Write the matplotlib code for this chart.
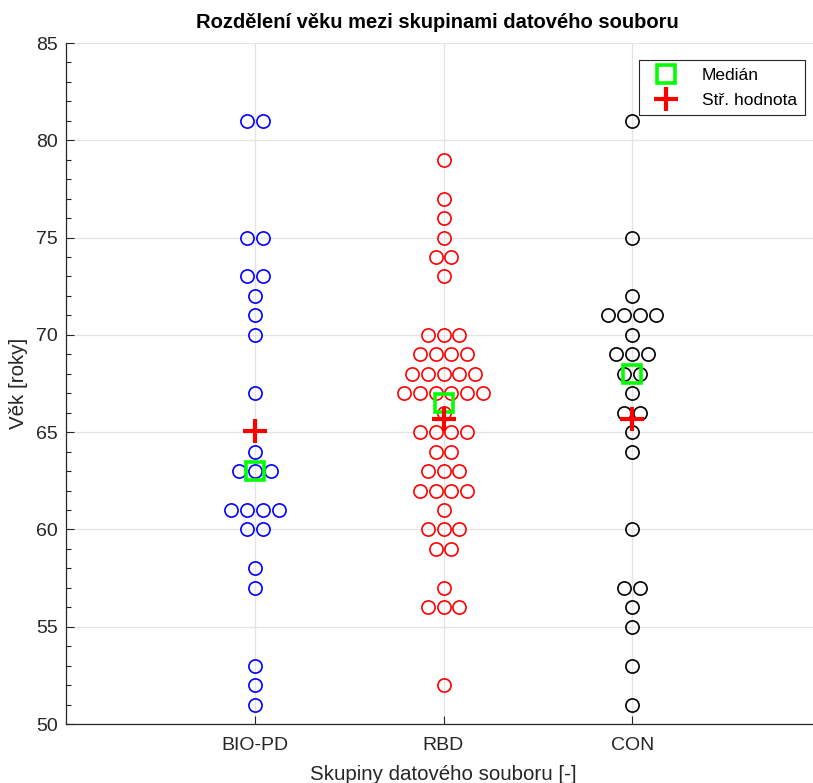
import numpy as np
import matplotlib
matplotlib.use("Agg")
import matplotlib.pyplot as plt
from matplotlib.ticker import MultipleLocator

plt.rcParams['font.family'] = ['Liberation Sans', 'DejaVu Sans']

groups = ["BIO-PD", "RBD", "CON"]
colors = ["#0000ff", "#ff0000", "#000000"]

# ages per group
bio_pd = [81, 81, 75, 75, 73, 73, 72, 71, 70, 67, 64, 63, 63, 63,
          61, 61, 61, 61, 60, 60, 58, 57, 53, 52, 51]
rbd = [79, 77, 76, 75, 74, 74, 73, 70, 70, 70, 69, 69, 69, 69,
       68, 68, 68, 68, 68, 67, 67, 67, 67, 67, 67, 66, 65, 65, 65, 65,
       64, 64, 63, 63, 63, 62, 62, 62, 62, 61, 60, 60, 60, 59, 59,
       57, 56, 56, 56, 52]
con = [81, 75, 72, 71, 71, 71, 71, 70, 69, 69, 69, 68, 68, 67, 66, 66,
       65, 64, 60, 57, 57, 56, 55, 53, 51]
data = [bio_pd, rbd, con]

W, H = 813, 783
fig = plt.figure(figsize=(W / 100, H / 100), dpi=100)
ax = fig.add_axes([66 / W, 1 - 724 / H, (821 - 66) / W, (724 - 43) / H])

step = 0.084
for i, (vals, col) in enumerate(zip(data, colors)):
    vals = np.array(vals)
    xs, ys = [], []
    for v in np.unique(vals):
        n = np.sum(vals == v)
        off = (np.arange(n) - (n - 1) / 2) * step
        xs.extend(i + 1 + off)
        ys.extend([v] * n)
    ax.plot(xs, ys, 'o', ms=9.5, mfc='none', mec=col, mew=1.2, zorder=3)

med = [np.median(v) for v in data]
mean = [np.mean(v) for v in data]
pos = np.arange(1, len(groups) + 1)
ax.plot(pos, med, 's', ms=13, mfc='none', mec='#00ff00', mew=2.6,
        zorder=4, label='Medián')
ax.plot(pos, mean, '+', ms=17, mec='#ff0000', mew=3, zorder=5,
        label='Stř. hodnota')

ax.set_xlim(0, 4)
ax.set_ylim(50, 85)
ax.set_xticks(pos)
ax.set_xticklabels(groups)
ax.yaxis.set_major_locator(MultipleLocator(5))
ax.yaxis.set_minor_locator(MultipleLocator(1))
ax.tick_params(direction='in', colors='#262626', labelsize=14, length=6, width=0.8)
ax.tick_params(which='minor', direction='in', length=3.5, width=0.8, colors='#262626')
ax.tick_params(axis='x', pad=9)
ax.tick_params(axis='y', pad=6)
ax.grid(True, color='#e3e3e3', lw=0.9, zorder=0)
for s in ['top', 'right']:
    ax.spines[s].set_visible(False)
for s in ['left', 'bottom']:
    ax.spines[s].set_color('#262626')
    ax.spines[s].set_linewidth(0.9)

ax.set_title('Rozdělení věku mezi skupinami datového souboru',
             fontsize=14.5, fontweight='bold', pad=11, x=0.492)
ax.set_xlabel('Skupiny datového souboru [-]', fontsize=14.8, color='#262626', labelpad=8)
ax.set_ylabel('Věk [roky]', fontsize=14.8, color='#262626', labelpad=6)

leg = ax.legend(loc='upper right', bbox_to_anchor=(805 / W, 1 - 60 / H),
                bbox_transform=fig.transFigure, fancybox=False, framealpha=1,
                edgecolor='#262626', fontsize=12.5, handlelength=2.2,
                borderpad=0.45, labelspacing=0.55, handletextpad=1.0,
                borderaxespad=0)
leg.get_frame().set_linewidth(0.8)

fig.savefig('out.png', dpi=100)
